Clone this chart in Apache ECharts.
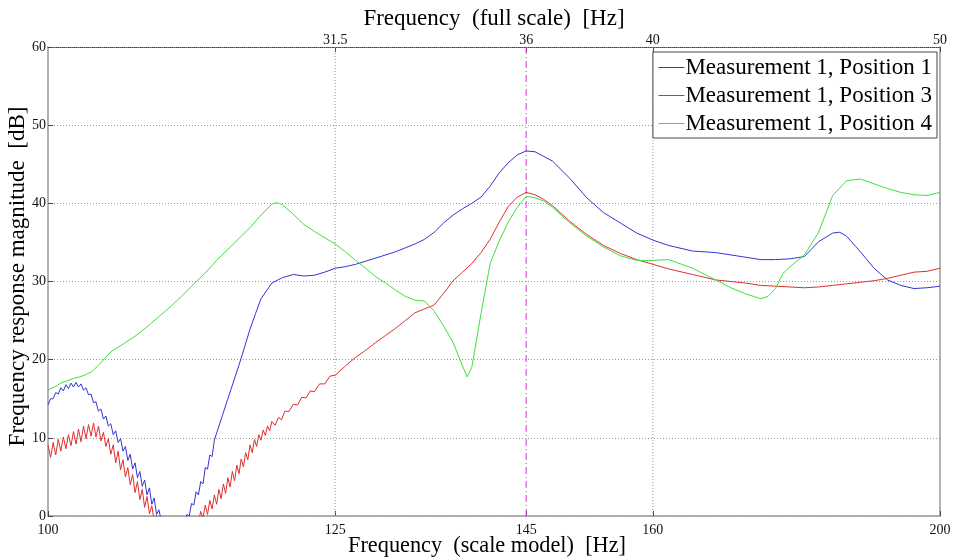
<!DOCTYPE html>
<html>
<head>
<meta charset="utf-8">
<title>Frequency response</title>
<script src="https://cdn.jsdelivr.net/npm/echarts@6/dist/echarts.min.js"></script>
<style>
  html, body { margin: 0; padding: 0; background: #fff; }
  #chart { width: 954px; height: 559px; }
</style>
</head>
<body>
<div id="chart"></div>
<script>
// 频率刻度（模型频率 Hz）及上方全尺寸频率标签
var xTicks = [100, 125, 145, 160, 200];
var topTicks = [125, 145, 160, 200];
var topLabels = ['31.5', '36', '40', '50'];
var yTicks = [0, 10, 20, 30, 40, 50, 60];
var vGrid = [125, 160];   // 竖向虚线
var markFreq = 145;       // 品红点划线

var names = ['Measurement 1, Position 1', 'Measurement 1, Position 3', 'Measurement 1, Position 4'];

// [频率 Hz, 幅值 dB]
var pos1 = [
  [100.0,14.2],[100.2,15.0],[100.4,15.0],[100.6,15.8],[100.8,15.6],[101.0,16.4],[101.2,16.0],[101.4,16.8],
  [101.6,16.3],[101.8,17.0],[102.0,16.5],[102.2,17.1],[102.4,16.5],[102.6,16.9],[102.8,16.1],[103.0,16.4],
  [103.2,15.5],[103.4,15.6],[103.6,14.5],[103.8,14.6],[104.0,13.4],[104.2,13.7],[104.4,12.4],[104.6,12.8],
  [104.8,11.5],[105.0,11.8],[105.2,10.4],[105.4,10.9],[105.6,9.4],[105.8,9.9],[106.0,8.3],[106.2,8.9],
  [106.4,7.1],[106.6,7.9],[106.8,6.0],[107.0,6.8],[107.2,4.9],[107.4,5.7],[107.6,3.8],[107.8,4.6],
  [108.0,2.7],[108.2,3.6],[108.4,1.5],[108.6,2.3],[108.8,0.2],[109.0,0.8],[109.4,-2.0],[110,-4],
  [111,-1.2],[111.4,0.2],[111.6,0.0],[111.8,1.6],[112.0,1.4],[112.2,3.1],[112.4,2.7],[112.6,4.4],
  [112.8,4.1],[113.0,6.2],[113.2,6.0],[113.4,7.8],[113.6,7.6],[113.8,9.7],[114.0,10.6],[114.5,12.8],
  [115,15.0],[116,19.3],[117,23.9],[117.5,25.9],[118,27.8],[119,29.8],[120,30.5],[121,30.9],[122,30.7],
  [123,30.8],[124,31.2],[125,31.7],[126,31.9],[127,32.2],[128,32.6],[129,33.0],[130,33.4],[131,33.8],
  [132,34.3],[133,34.8],[134,35.4],[135,36.3],[136,37.5],[137,38.5],[138,39.3],[139,40.0],[140,40.8],
  [141,42.2],[142,43.9],[143,45.2],[144,46.2],[145,46.7],[146,46.6],[147,46.0],[148,45.4],[150,43.2],
  [152,40.7],[154,38.8],[156,37.5],[158,36.2],[160,35.3],[162,34.6],[165,33.9],[168,33.7],[170,33.4],
  [172,33.1],[174,32.8],[176,32.8],[178,32.9],[180,33.2],[182,35.1],[184,36.2],[185,36.3],[186,35.8],
  [188,33.8],[190,31.7],[192,30.2],[194,29.5],[196,29.1],[198,29.2],[200,29.4]
];

var pos3 = [
  [100.0,9.1],[100.2,7.5],[100.4,9.4],[100.6,7.8],[100.8,9.8],[101.0,8.3],[101.2,10.1],[101.4,8.6],
  [101.6,10.4],[101.8,9.0],[102.0,10.8],[102.2,9.2],[102.4,11.1],[102.6,9.5],[102.8,11.5],[103.0,9.9],
  [103.2,11.7],[103.4,10.2],[103.6,11.9],[103.8,10.1],[104.0,11.5],[104.2,9.6],[104.4,10.7],[104.6,8.9],
  [104.8,9.9],[105.0,7.9],[105.2,9.1],[105.4,6.8],[105.6,8.3],[105.8,5.9],[106.0,7.2],[106.2,5.0],
  [106.4,6.2],[106.6,4.0],[106.8,5.3],[107.0,3.0],[107.2,4.4],[107.4,2.1],[107.6,3.4],[107.8,1.1],
  [108.0,2.5],[108.2,0.3],[108.4,1.3],[108.6,-0.6],[108.8,0.1],[109.0,-1.2],[110,-4.5],[111,-5.5],
  [112,-2.5],[112.4,-0.9],[112.6,0.6],[112.8,-0.3],[113.0,1.4],[113.2,0.2],[113.4,2.0],[113.6,0.9],
  [113.8,2.7],[114.0,1.5],[114.2,3.4],[114.4,2.2],[114.6,4.1],[114.8,2.9],[115.0,4.9],[115.2,3.7],
  [115.4,5.7],[115.6,4.5],[115.8,6.5],[116.0,5.4],[116.2,7.3],[116.4,6.3],[116.6,8.1],[116.8,7.2],
  [117.0,9.1],[117.2,8.1],[117.4,9.8],[117.6,8.9],[117.8,10.4],[118.0,9.7],[118.2,11.0],[118.4,10.3],
  [118.6,11.5],[118.8,10.9],[119.0,12.1],[119.3,11.6],[119.6,12.6],[119.9,12.3],[120.2,13.4],[120.6,13.4],
  [121.0,14.3],[121.4,14.2],[121.8,15.2],[122.2,15.1],[122.6,16.0],[123.0,15.9],[123.5,16.9],[124.0,16.9],
  [124.5,17.9],[125.0,18.0],[126,19.2],[127,20.3],[128,21.2],[129,22.2],[130,23.1],[131,24.0],
  [132,25.0],[133,26.0],[134,26.5],[135,27.0],[136,28.5],[137,30.1],[138,31.2],[139,32.3],[140,33.7],
  [141,35.4],[142,37.6],[143,39.6],[144,40.8],[145,41.4],[146,41.1],[147,40.5],[148,39.7],[150,37.7],
  [152,36.0],[154,34.6],[156,33.6],[158,32.8],[160,32.2],[162,31.6],[165,30.9],[168,30.2],[170,30.0],
  [172,29.8],[174,29.5],[176,29.4],[178,29.3],[180,29.2],[182,29.3],[184,29.5],[186,29.7],[188,29.9],
  [190,30.1],[192,30.4],[194,30.8],[196,31.2],[198,31.3],[200,31.7]
];

var pos4 = [
  [100,16.1],[100.5,16.5],[101,17.0],[101.5,17.3],[102,17.6],[102.5,17.8],[103,18.1],[103.5,18.5],
  [104,19.3],[105,21.0],[106,22.0],[107,23.0],[108,24.2],[109,25.5],[110,26.8],[111,28.2],[112,29.7],
  [113,31.1],[114,32.7],[115,34.1],[116,35.5],[117,36.9],[118,38.5],[119,39.9],[119.5,40.1],[120,39.8],
  [121,38.6],[122,37.3],[123,36.4],[124,35.6],[125,34.8],[126,33.8],[127,32.7],[128,31.7],[129,30.6],
  [130,29.8],[131,28.9],[132,28.1],[133,27.6],[134,27.5],[135,26.2],[136,24.3],[137,22.2],[138,19.2],
  [138.5,17.8],[139,19.0],[140,25.9],[141,32.3],[142,35.2],[143,37.6],[144,39.5],[145,40.9],[146,40.7],
  [147,40.3],[148,39.5],[150,37.5],[152,35.8],[154,34.4],[156,33.3],[158,32.7],[160,32.7],[162,32.8],
  [165,31.7],[168,30.2],[170,29.2],[172,28.4],[174,27.8],[175,28.1],[176,29.1],[177,31.0],[178,31.9],
  [180,33.4],[182,36.3],[184,41.0],[186,42.9],[188,43.1],[190,42.5],[192,41.9],[194,41.4],[196,41.1],
  [198,41.0],[200,41.4]
];

var serif = 'Liberation Serif';
var yMin = yTicks[0], yMax = yTicks[yTicks.length - 1];

// 对数频率轴：数据先取 log10 再交给数值轴
function lg(f) { return Math.log10(f); }
function toLog(arr) {
    return arr.map(function (p) { return [lg(p[0]), p[1]]; });
}
function freqOf(v) { return Math.round(Math.pow(10, v)); }

var topMap = {};
for (var i = 0; i < topTicks.length; i++) {
    topMap[topTicks[i]] = topLabels[i];
}

// 竖向参考线（markLine 在 v6 里位置不准，改用两点折线）
function vLine(f, style) {
    return {
        type: 'line',
        data: [[lg(f), yMin], [lg(f), yMax]],
        symbol: 'none',
        silent: true,
        lineStyle: style,
        z: 1
    };
}

var curves = [pos1, pos3, pos4];
var colors = ['#3434d4', '#dd3030', '#3ee03e'];

// 先放三条曲线，参考线放后面（图例颜色按系列顺序取）
var series = [];
for (var k = 0; k < curves.length; k++) {
    series.push({
        name: names[k],
        type: 'line',
        data: toLog(curves[k]),
        color: colors[k],
        symbol: 'none',
        clip: true,
        lineStyle: { color: colors[k], width: 1 },
        itemStyle: { color: colors[k] },
        z: 3
    });
}
vGrid.forEach(function (f) {
    series.push(vLine(f, { color: '#9a9a9a', type: [1, 2], width: 1 }));
});
series.push(vLine(markFreq, { color: '#dd33dd', type: [7, 3, 1, 3], width: 1 }));

var legendData = names.map(function (n, idx) {
    return { name: n, lineStyle: { color: colors[idx], width: 1 } };
});

var chart = echarts.init(document.getElementById('chart'), null, { renderer: 'canvas' });

var option = {
    animation: false,
    backgroundColor: '#fff',
    color: colors,
    grid: { left: 48, right: 14, top: 47, bottom: 43, containLabel: false, outerBoundsMode: 'none' },
    legend: {
        orient: 'vertical',
        right: 17,
        top: 52,
        data: legendData,
        backgroundColor: '#fff',
        borderColor: '#444',
        borderWidth: 1,
        borderRadius: 0,
        padding: [2, 5, 1, 5],
        itemGap: 1,
        itemWidth: 26,
        itemHeight: 14,
        itemStyle: { opacity: 0 },
        lineStyle: { width: 1 },
        textStyle: { fontFamily: serif, fontSize: 23, lineHeight: 27, color: '#000', padding: [0, 0, 0, -4] }
    },
    xAxis: [{
        type: 'value',
        position: 'bottom',
        min: lg(100),
        max: lg(200),
        name: 'Frequency  (scale model)  [Hz]',
        nameLocation: 'middle',
        nameGap: 19,
        nameMoveOverlap: false,
        nameTextStyle: { fontFamily: serif, fontSize: 22.3, color: '#000', padding: [0, 14, 0, 0] },
        axisLine: { show: true, onZero: false, lineStyle: { color: '#999', width: 1.5 } },
        axisTick: { show: true, inside: true, length: 5, customValues: xTicks.map(lg), lineStyle: { color: '#444' } },
        axisLabel: {
            customValues: xTicks.map(lg),
            fontFamily: serif, fontSize: 14, color: '#111', margin: 7,
            formatter: function (v) { return String(freqOf(v)); }
        },
        splitLine: { show: false }
    }, {
        type: 'value',
        position: 'top',
        min: lg(100),
        max: lg(200),
        name: 'Frequency  (full scale)  [Hz]',
        nameLocation: 'middle',
        nameGap: 17,
        nameMoveOverlap: false,
        nameTextStyle: { fontFamily: serif, fontSize: 23, color: '#000' },
        axisLine: { show: true, onZero: false, lineStyle: { color: '#444', width: 1, type: [1, 1] } },
        axisTick: { show: true, inside: true, length: 5, customValues: topTicks.map(lg), lineStyle: { color: '#444' } },
        axisLabel: {
            customValues: topTicks.map(lg),
            fontFamily: serif, fontSize: 14, color: '#111', margin: 0,
            formatter: function (v) { return topMap[freqOf(v)] || ''; }
        },
        splitLine: { show: false }
    }],
    yAxis: [{
        type: 'value',
        position: 'left',
        min: yMin,
        max: yMax,
        interval: 10,
        name: 'Frequency response magnitude  [dB]',
        nameLocation: 'middle',
        nameGap: 19,
        nameMoveOverlap: false,
        nameTextStyle: { fontFamily: serif, fontSize: 23, color: '#000', padding: [0, 0, 0, 10] },
        axisLine: { show: true, onZero: false, lineStyle: { color: '#999', width: 1.5 } },
        axisTick: { show: true, inside: true, length: 5, lineStyle: { color: '#444' } },
        axisLabel: { fontFamily: serif, fontSize: 14, color: '#111', margin: 2 },
        splitLine: { show: true, lineStyle: { color: '#9a9a9a', type: [1, 2], width: 1 } }
    }, {
        type: 'value',
        position: 'right',
        min: yMin,
        max: yMax,
        interval: 10,
        axisLine: { show: true, onZero: false, lineStyle: { color: '#999', width: 1.5 } },
        axisTick: { show: false },
        axisLabel: { show: false },
        splitLine: { show: false }
    }],
    series: series
};

chart.setOption(option);
</script>
</body>
</html>
